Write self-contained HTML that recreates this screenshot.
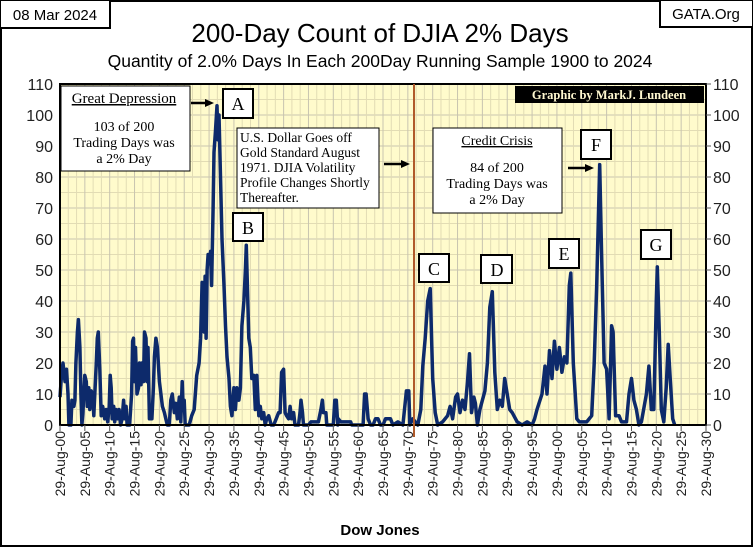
<!DOCTYPE html>
<html><head><meta charset="utf-8"><style>
body{margin:0;background:#fff}
svg{display:block}
text{font-family:"Liberation Sans",sans-serif}
.serif text, text.serif{font-family:"Liberation Serif",serif}
</style></head><body>
<svg id="c" width="753" height="547" viewBox="0 0 753 547">
<rect x="1" y="1" width="751" height="545" fill="#fff" stroke="#000" stroke-width="2"/>
<rect x="60" y="84" width="646" height="341" fill="#fffbcc"/>
<g id="grid"></g>
<g id="series"></g>
<rect x="60" y="84" width="646" height="341" fill="none" stroke="#000" stroke-width="2"/>
<g id="axes"></g>
<line x1="414" y1="84" x2="414" y2="437" stroke="#b05a2a" stroke-width="2"/>
<rect x="0" y="0" width="110" height="28" fill="#fff" stroke="#000" stroke-width="2"/>
<text x="55" y="20" font-size="15" text-anchor="middle">08 Mar 2024</text>
<rect x="660" y="0" width="93" height="27" fill="#fff" stroke="#000" stroke-width="2"/>
<text x="706" y="19" font-size="15" text-anchor="middle">GATA.Org</text>
<text x="380" y="42" font-size="26" text-anchor="middle">200-Day Count of  DJIA 2% Days</text>
<text x="380" y="67" font-size="17.5" text-anchor="middle">Quantity of 2.0% Days In Each 200Day Running Sample 1900 to 2024</text>
<text x="380" y="535" font-size="15" font-weight="bold" text-anchor="middle">Dow Jones</text>
<rect x="515" y="86" width="189" height="17" fill="#000"/>
<text x="609" y="99" font-size="12.5" font-weight="bold" fill="#fff8d0" text-anchor="middle" class="serif">Graphic by MarkJ. Lundeen</text>
<g class="serif">
<rect x="61" y="86" width="129" height="85" fill="#fff" stroke="#000"/>
<text x="124" y="103" font-size="15" text-anchor="middle" text-decoration="underline">Great Depression</text>
<text x="124" y="131" font-size="14" text-anchor="middle">103 of 200</text>
<text x="124" y="147" font-size="14" text-anchor="middle">Trading Days was</text>
<text x="124" y="163" font-size="14" text-anchor="middle">a 2% Day</text>
<line x1="191" y1="103" x2="206" y2="103" stroke="#000" stroke-width="2.5"/><polygon points="205,99 214,103 205,107" fill="#000"/>
<rect x="223" y="89" width="30" height="29" fill="#fff" stroke="#000" stroke-width="2"/><text x="238" y="110" font-size="18" text-anchor="middle">A</text>
<rect x="237" y="128" width="142" height="80" fill="#fff" stroke="#000"/>
<text x="240" y="142" font-size="13.5">U.S. Dollar Goes off</text>
<text x="240" y="157" font-size="13.5">Gold Standard August</text>
<text x="240" y="172" font-size="13.5">1971. DJIA Volatility</text>
<text x="240" y="187" font-size="13.5">Profile Changes Shortly</text>
<text x="240" y="202" font-size="13.5">Thereafter.</text>
<line x1="384" y1="164" x2="402" y2="164" stroke="#000" stroke-width="2.5"/><polygon points="401,160 410,164 401,168" fill="#000"/>
<rect x="233" y="213" width="30" height="28" fill="#fff" stroke="#000" stroke-width="2"/><text x="248" y="234" font-size="18" text-anchor="middle">B</text>
<rect x="433" y="128" width="129" height="85" fill="#fff" stroke="#000"/>
<text x="497" y="145" font-size="14" text-anchor="middle" text-decoration="underline">Credit  Crisis</text>
<text x="497" y="172" font-size="14" text-anchor="middle">84 of 200</text>
<text x="497" y="188" font-size="14" text-anchor="middle">Trading Days was</text>
<text x="497" y="204" font-size="14" text-anchor="middle">a 2% Day</text>
<line x1="568" y1="168" x2="586" y2="168" stroke="#000" stroke-width="2.5"/><polygon points="585,164 594,168 585,172" fill="#000"/>
<rect x="581" y="130" width="30" height="29" fill="#fff" stroke="#000" stroke-width="2"/><text x="596" y="151" font-size="18" text-anchor="middle">F</text>
<rect x="419" y="254" width="30" height="28" fill="#fff" stroke="#000" stroke-width="2"/><text x="434" y="275" font-size="18" text-anchor="middle">C</text>
<rect x="481" y="255" width="31" height="28" fill="#fff" stroke="#000" stroke-width="2"/><text x="497" y="276" font-size="18" text-anchor="middle">D</text>
<rect x="549" y="239" width="30" height="29" fill="#fff" stroke="#000" stroke-width="2"/><text x="564" y="260" font-size="18" text-anchor="middle">E</text>
<rect x="641" y="230" width="30" height="29" fill="#fff" stroke="#000" stroke-width="2"/><text x="656" y="251" font-size="18" text-anchor="middle">G</text>
</g>
</svg>
<script>
const years=[1900,1900.3,1900.6,1901,1901.3,1901.6,1901.8,1902.2,1902.4,1902.8,1903,1903.2,1903.5,1903.7,1904,1904.2,1904.4,1904.6,1905,1905.3,1905.5,1905.8,1906,1906.3,1906.6,1906.8,1907,1907.3,1907.5,1907.7,1908,1908.3,1908.6,1909,1909.3,1909.6,1909.9,1910.1,1910.3,1910.5,1910.8,1911,1911.3,1911.6,1911.9,1912.2,1912.5,1912.8,1913,1913.3,1913.5,1914,1914.4,1914.6,1914.8,1915,1915.2,1915.5,1915.8,1916,1916.3,1916.5,1916.8,1917,1917.3,1917.5,1917.7,1918,1918.5,1918.8,1919,1919.3,1919.6,1920,1920.3,1920.6,1921,1921.3,1921.6,1922,1922.3,1922.6,1923,1923.3,1923.6,1924,1924.3,1924.6,1924.8,1925,1925.2,1926,1926.5,1927,1927.5,1928,1928.3,1928.6,1928.8,1929,1929.2,1929.4,1929.6,1929.8,1930,1930.3,1930.5,1930.8,1931,1931.3,1931.6,1931.8,1932,1932.3,1932.6,1933,1933.3,1933.6,1934,1934.3,1934.6,1935,1935.3,1935.6,1936,1936.3,1936.6,1937,1937.3,1937.5,1937.8,1938,1938.3,1938.6,1939,1939.3,1939.6,1940,1940.3,1940.6,1941,1941.3,1941.6,1942,1942.5,1943,1943.5,1944,1944.3,1944.6,1945,1945.3,1945.6,1946,1946.3,1946.6,1947,1947.3,1948,1948.3,1948.5,1948.8,1949,1950,1950.5,1952,1952.5,1952.8,1953,1953.5,1953.7,1955,1955.3,1955.6,1955.9,1956,1956.5,1958.5,1958.7,1961,1961.3,1961.6,1962,1962.5,1963,1963.5,1964,1964.5,1965,1965.5,1966.5,1967,1968,1969,1969.7,1970.2,1970.4,1971,1972,1972.6,1973,1973.5,1974,1974.5,1975,1975.5,1976,1977,1978,1978.5,1979,1979.6,1980,1980.5,1981,1981.5,1982,1982.4,1982.8,1983.3,1983.6,1984,1984.5,1985,1985.5,1986,1986.5,1987,1987.5,1988,1988.5,1989,1989.5,1990,1990.5,1991,1992,1993,1994,1995,1995.5,1996,1997,1997.6,1998,1998.5,1999,1999.5,2000,2000.5,2001,2001.5,2002,2002.5,2002.8,2003.3,2004,2004.5,2006,2007,2007.5,2008,2008.6,2009,2009.5,2010,2010.5,2011,2011.3,2011.8,2012.5,2013,2014,2014.5,2015,2015.5,2016,2016.5,2017,2018,2018.5,2019,2019.5,2020,2020.2,2020.6,2021,2021.5,2022,2022.4,2022.8,2023.3,2023.7];
const counts=[9,16,20,14,18,10,0,0,8,6,8,20,30,34,25,10,0,4,16,14,6,12,5,11,9,3,10,20,28,30,18,3,6,2,5,1,6,16,12,2,6,1,5,2,5,0,2,8,2,6,0,0,10,27,28,14,25,10,12,20,13,20,14,30,28,14,25,2,2,12,22,28,25,14,10,6,4,2,0,0,8,10,4,7,2,9,1,14,5,8,0,0,3,5,16,20,28,46,45,30,48,28,50,55,52,56,45,70,88,95,103,92,100,80,60,45,32,22,15,6,3,12,5,12,8,12,32,40,50,58,40,28,25,15,16,5,16,3,6,2,4,0,2,3,0,0,2,4,4,17,18,4,3,2,6,2,4,0,0,4,8,4,0,0,1,1,5,8,4,4,0,0,8,8,0,2,1,1,0,0,10,10,2,0,0,2,2,0,0,2,2,0,1,0,11,11,0,2,0,5,19,28,40,44,15,4,0,1,3,6,2,9,10,4,8,5,14,23,4,9,7,0,5,8,11,20,38,43,17,5,8,6,15,10,5,4,1,0,1,0,2,5,10,19,10,24,15,27,18,25,17,22,20,45,49,20,2,1,1,3,20,45,84,55,20,18,2,32,30,3,3,1,1,10,15,8,5,0,1,10,19,5,5,40,51,30,5,1,12,26,15,2,0];
const xTickYears=[1900,1905,1910,1915,1920,1925,1930,1935,1940,1945,1950,1955,1960,1965,1970,1975,1980,1985,1990,1995,2000,2005,2010,2015,2020,2025,2030];
const yTicks=[0,10,20,30,40,50,60,70,80,90,100,110];
const NS='http://www.w3.org/2000/svg';
const X0=60,X1=706,Y0=425,Y1=84;
const xs=y=>X0+(y-1900)/130*(X1-X0);
const ys=v=>Y0-v/110*(Y0-Y1);
function mk(tag,attrs,parent){const e=document.createElementNS(NS,tag);for(const k in attrs)e.setAttribute(k,attrs[k]);parent.appendChild(e);return e;}
const grid=document.getElementById('grid'),axes=document.getElementById('axes'),series=document.getElementById('series');
for(let v=5;v<110;v+=5){const l=mk('line',{x1:X0,x2:X1,y1:ys(v),y2:ys(v),stroke:v%10?'#e2dcb4':'#c8c4b0','stroke-width':1},grid);

}
for(let yr=1900+5/3;yr<2030;yr+=5/3){const major=Math.abs(Math.round((yr-1900)/5)*5-(yr-1900))<0.01;const l=mk('line',{x1:xs(yr),x2:xs(yr),y1:Y1,y2:Y0,stroke:major?'#c8c4b0':'#e2dcb4','stroke-width':1},grid);

}
yTicks.forEach(v=>{
const t=mk('text',{x:53,y:ys(v)+6,'font-size':16,'text-anchor':'end',fill:'#222'},axes);t.textContent=v;


const t2=mk('text',{x:713,y:ys(v)+6,'font-size':16,fill:'#222'},axes);t2.textContent=v;


const k=mk('line',{x1:X1,x2:X1+5,y1:ys(v),y2:ys(v),stroke:'#555'},axes);


});
xTickYears.forEach(yr=>{
const x=xs(yr);
const k=mk('line',{x1:x,x2:x,y1:Y0,y2:Y0+6,stroke:'#555'},axes);


const t=mk('text',{x:0,y:0,'font-size':14,'text-anchor':'end',fill:'#222',transform:`translate(${x+5},${Y0+6}) rotate(-90)`},axes);
t.textContent='29-Aug-'+String(yr%100).padStart(2,'0');


});
const d=years.map((y,i)=>(i?'L':'M')+xs(y).toFixed(1)+','+ys(counts[i]).toFixed(1)).join('');
const p=mk('path',{d:d,fill:'none',stroke:'#0d2a6b','stroke-width':3.5,'stroke-linejoin':'round'},series);


</script>
</body></html>
